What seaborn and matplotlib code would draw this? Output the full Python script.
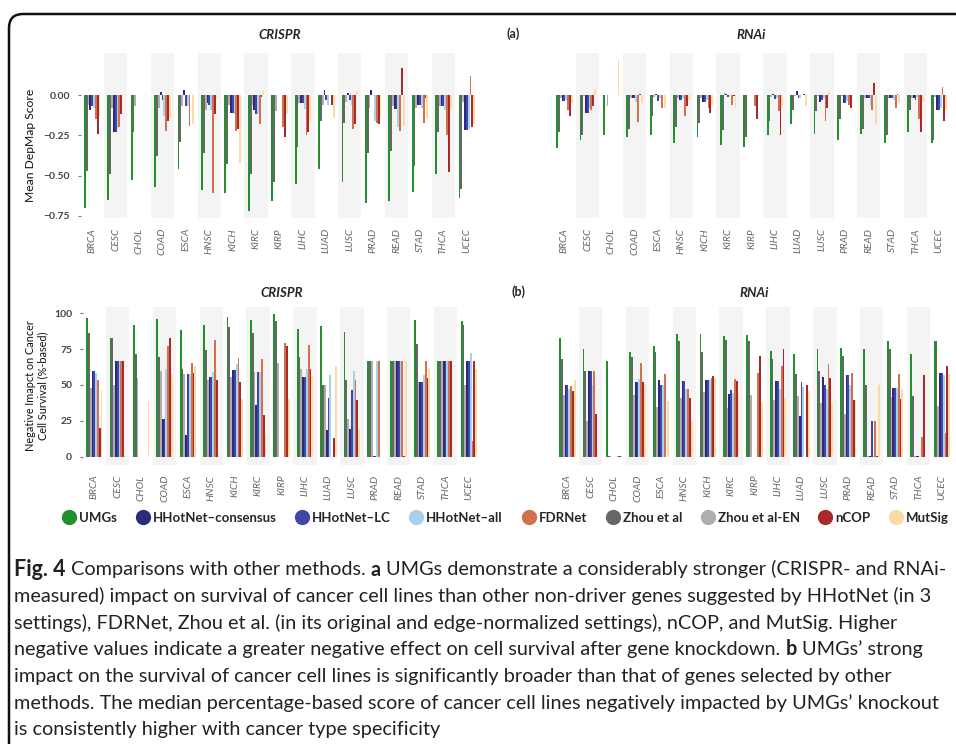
import matplotlib
matplotlib.use("Agg")
import numpy as np
import pandas as pd
import matplotlib.pyplot as plt
import seaborn as sns
from matplotlib.lines import Line2D
from matplotlib.patches import FancyBboxPatch
from matplotlib.transforms import IdentityTransform

# --- data ---
cancers = ["BRCA", "CESC", "CHOL", "COAD", "ESCA", "HNSC", "KICH", "KIRC", "KIRP",
           "LIHC", "LUAD", "LUSC", "PRAD", "READ", "STAD", "THCA", "UCEC"]

# bar order inside each cancer group
methods = ["UMGs", "Zhou et al", "Zhou et al-EN", "HHotNet\u2013consensus", "HHotNet\u2013LC",
           "HHotNet\u2013all", "FDRNet", "nCOP", "MutSig"]
legend_order = ["UMGs", "HHotNet\u2013consensus", "HHotNet\u2013LC", "HHotNet\u2013all", "FDRNet",
                "Zhou et al", "Zhou et al-EN", "nCOP", "MutSig"]
colors = ["#23902f", "#666666", "#b2adad", "#2b2a7b", "#4147a8",
          "#a8d1ee", "#d4704e", "#a8292a", "#fdd9a3"]

# (a) mean DepMap score, rows = cancers, columns = methods
crispr_mean = [
    [-0.70, -0.47, -0.06, -0.09, -0.07, -0.08, -0.15, -0.24, -0.13],
    [-0.65, -0.49, -0.08, -0.23, -0.23, -0.21, -0.20, -0.12, 0.01],
    [-0.53, -0.23, -0.07, 0.0, 0.0, 0.0, 0.0, 0.0, 0.005],
    [-0.57, -0.38, -0.08, 0.02, -0.03, -0.13, -0.22, -0.16, -0.14],
    [-0.46, -0.29, -0.07, 0.03, -0.07, -0.07, -0.19, 0.0, -0.18],
    [-0.59, -0.36, -0.09, -0.05, -0.06, -0.09, -0.61, -0.12, -0.02],
    [-0.61, -0.43, -0.06, -0.11, -0.11, -0.12, -0.22, -0.21, -0.42],
    [-0.72, -0.49, -0.06, -0.09, -0.12, -0.12, -0.18, -0.01, 0.025],
    [-0.66, -0.54, -0.10, 0.0, 0.0, 0.0, -0.20, -0.26, -0.12],
    [-0.55, -0.32, -0.05, -0.05, -0.05, -0.085, -0.25, -0.23, -0.16],
    [-0.46, -0.16, -0.06, 0.03, -0.03, -0.06, 0.0, -0.06, -0.14],
    [-0.54, -0.17, -0.04, 0.015, -0.03, -0.06, -0.21, -0.18, 0.025],
    [-0.67, -0.36, -0.08, 0.03, 0.0, -0.16, -0.17, -0.18, -0.13],
    [-0.66, -0.35, -0.07, -0.085, -0.085, -0.20, -0.22, 0.17, -0.19],
    [-0.60, -0.44, -0.08, -0.06, -0.06, -0.08, -0.17, -0.015, -0.15],
    [-0.49, -0.23, -0.07, -0.07, -0.07, -0.09, -0.25, -0.475, -0.085],
    [-0.64, -0.58, -0.04, -0.215, -0.215, -0.21, 0.12, -0.20, -0.18],
]
rnai_mean = [
    [-0.33, -0.23, -0.02, -0.035, -0.035, -0.03, -0.09, -0.13, -0.05],
    [-0.28, -0.25, -0.005, -0.11, -0.11, -0.08, -0.09, -0.07, 0.04],
    [-0.25, 0.0, -0.07, 0.0, 0.0, 0.0, 0.0, 0.0, 0.22],
    [-0.26, -0.21, -0.02, -0.02, -0.02, -0.045, -0.165, 0.005, -0.05],
    [-0.25, -0.13, -0.01, 0.005, -0.035, -0.02, -0.08, 0.0, -0.08],
    [-0.30, -0.20, -0.02, -0.03, -0.03, -0.02, -0.13, -0.07, -0.03],
    [-0.26, -0.17, -0.02, -0.045, -0.045, -0.03, -0.08, -0.11, -0.06],
    [-0.31, -0.215, 0.012, 0.005, -0.012, 0.0, -0.06, -0.005, -0.08],
    [-0.32, -0.26, 0.0, 0.0, 0.0, 0.0, -0.07, -0.15, -0.005],
    [-0.25, -0.16, -0.01, 0.005, -0.027, -0.02, -0.10, -0.25, -0.07],
    [-0.18, -0.09, -0.005, 0.025, -0.02, -0.02, 0.0, 0.005, -0.07],
    [-0.24, -0.10, -0.005, -0.04, -0.03, -0.02, -0.16, -0.08, 0.02],
    [-0.28, -0.15, -0.005, -0.05, -0.05, -0.035, -0.06, -0.08, -0.01],
    [-0.24, -0.21, -0.02, -0.02, -0.02, -0.065, -0.09, 0.075, -0.18],
    [-0.30, -0.25, -0.02, -0.02, -0.02, -0.03, -0.08, 0.005, -0.05],
    [-0.23, -0.09, -0.02, -0.02, -0.03, -0.01, -0.15, -0.23, -0.04],
    [-0.30, -0.28, -0.01, -0.09, -0.09, -0.08, 0.05, -0.16, -0.09],
]

# (b) % of cell lines negatively impacted
crispr_pct = [
    [96.5, 86, 48, 60, 60, 58, 53.5, 20, 46.5],
    [83, 83, 50, 67, 67, 67, 67, 67, 0.5],
    [92, 71.5, 55, 0, 0, 0, 0, 0, 38],
    [96, 69.5, 60, 26.4, 26.4, 61, 77, 82.6, 57.6],
    [88, 61, 57.6, 15.3, 57.6, 57.6, 65, 58, 63],
    [92, 74, 53.5, 55.5, 55.5, 59, 81, 53.5, 1.4],
    [97, 90, 55.5, 60.4, 60.4, 64.6, 68.8, 52, 40],
    [95, 86, 59, 36, 59, 59, 68, 29, 15.3],
    [99, 94.4, 65, 0, 0, 0, 79, 77, 40],
    [89, 69.4, 61, 55.5, 55.5, 61, 77.8, 61, 55.5],
    [91, 50, 50, 18.75, 41, 57, 0, 13, 63],
    [87, 53.5, 26.4, 19.4, 46.5, 59.7, 53.5, 39.6, 19.4],
    [66.7, 66.7, 66.7, 0.5, 0.5, 66.7, 66.7, 0.3, 0.3],
    [66.7, 66.7, 66.7, 66.7, 66.7, 66.7, 66.7, 0.5, 66.7],
    [95, 78.5, 52, 52, 52, 57, 66.7, 55, 62],
    [66.7, 66.7, 66.7, 66.7, 66.7, 66.7, 66.7, 66.7, 0],
    [94.4, 91.7, 50, 66.7, 66.7, 72, 11, 66.7, 61],
]
rnai_pct = [
    [82.6, 68, 43, 50, 50, 47, 49.3, 45.8, 53.5],
    [75, 59.7, 25, 59.7, 59.7, 50, 59.7, 30, 0],
    [66.7, 0.5, 0.5, 0, 0, 0, 0.5, 0.5, 0.5],
    [73, 69.4, 43, 52, 52, 54, 65, 52, 50],
    [77, 73, 34.7, 53.5, 50, 50, 57.6, 0, 39],
    [85.4, 80.6, 41, 52.8, 52.8, 47.2, 47.2, 41, 25],
    [85.4, 73, 45, 53.5, 53.5, 53.5, 54.9, 56.3, 54.9],
    [84, 81, 34, 43.75, 46.5, 44.4, 54, 52.8, 43.75],
    [84.7, 80.6, 43, 0, 0, 0, 58.3, 70, 37.5],
    [73.6, 68, 39.6, 52.8, 52.8, 47.2, 63, 75, 41],
    [71.5, 57.6, 42.4, 28.5, 52, 48.6, 0, 50, 45.8],
    [75, 59.7, 37.5, 55.5, 50, 47.2, 64.6, 54.9, 36.8],
    [75.7, 70, 30, 57, 57, 50, 58.3, 39.6, 39.6],
    [75, 50, 0.5, 0.5, 25, 0.5, 25, 0.5, 50],
    [80.6, 75, 41.7, 48, 48, 48, 57.6, 40.3, 47.2],
    [71.5, 42.4, 0.5, 0.5, 0.5, 0, 13.9, 57, 0],
    [80.6, 80.6, 35.4, 58.3, 58.3, 57, 16.7, 63, 57.6],
]

caption_lines = [
    [("Fig. 4", "bold"), ("Comparisons with other methods.", "normal"), ("a", "bold"),
     ("UMGs demonstrate a considerably stronger (CRISPR- and RNAi-", "normal")],
    [("measured) impact on survival of cancer cell lines than other non-driver genes suggested by HHotNet (in 3", "normal")],
    [("settings), FDRNet, Zhou et al. (in its original and edge-normalized settings), nCOP, and MutSig. Higher", "normal")],
    [("negative values indicate a greater negative effect on cell survival after gene knockdown.", "normal"),
     ("b", "bold"), ("UMGs\u2019 strong", "normal")],
    [("impact on the survival of cancer cell lines is significantly broader than that of genes selected by other", "normal")],
    [("methods. The median percentage-based score of cancer cell lines negatively impacted by UMGs\u2019 knockout", "normal")],
    [("is consistently higher with cancer type specificity", "normal")],
]

sns.set_theme(style="white")
plt.rcParams["font.family"] = ["Lato", "DejaVu Sans"]

W, H = 956, 744
fig = plt.figure(figsize=(W / 100, H / 100), dpi=100)


def to_long(rows):
    df = pd.DataFrame(rows, index=cancers, columns=methods)
    return df.reset_index(names="cancer").melt(id_vars="cancer", var_name="method", value_name="value")


def px_axes(left, top, width, bottom):
    return fig.add_axes([left / W, 1 - bottom / H, width / W, (bottom - top) / H])


def draw_panel(ax, rows, ylim, yticks, ylabels, show_y, title, title_pad):
    sns.barplot(data=to_long(rows), x="cancer", y="value", hue="method", order=cancers,
                hue_order=methods, palette=colors, width=0.7, saturation=1, errorbar=None,
                legend=False, linewidth=0, ax=ax, zorder=2)
    for i in range(1, len(cancers), 2):
        ax.axvspan(i - 0.5, i + 0.5, color="#f4f4f4", lw=0, zorder=0)
    ax.set_xlim(-0.5, len(cancers) - 0.5)
    ax.set_ylim(*ylim)
    ax.set_xlabel("")
    ax.set_ylabel("")
    ax.set_yticks(yticks)
    ax.set_yticklabels(ylabels, fontsize=7.5, fontweight="bold", color="#444444")
    ax.tick_params(axis="y", left=show_y, labelleft=show_y, length=2.5, width=0.8,
                   color="#777777", pad=5)
    ax.tick_params(axis="x", length=0, pad=7)
    for lbl in ax.get_xticklabels():
        lbl.set_rotation(90)
        lbl.set_style("italic")
        lbl.set_fontsize(7.3)
        lbl.set_color("#666666")
    ax.set_title(title, fontsize=9.5, fontweight="bold", style="italic", pad=title_pad)
    sns.despine(ax=ax, left=True, bottom=True)


# (a) panels
ax1 = px_axes(80.5, 53.3, 398, 218.3)
ax2 = px_axes(552.6, 53.3, 398, 218.3)
mean_ticks = [0, -0.25, -0.5, -0.75]
mean_labels = ["0.00", "\u22120.25", "\u22120.50", "\u22120.75"]
draw_panel(ax1, crispr_mean, (-0.765, 0.26), mean_ticks, mean_labels, True, "CRISPR", 10)
draw_panel(ax2, rnai_mean, (-0.765, 0.26), mean_ticks, mean_labels, False, "RNAi", 10)
ax1.set_ylabel("Mean DepMap Score", fontsize=8.7, color="#111111")
ax1.yaxis.set_label_coords(-0.112, 0.444)

# (b) panels
ax3 = px_axes(82.6, 307, 398, 465)
ax4 = px_axes(555.6, 307, 398, 465)
pct_ticks = [0, 25, 50, 75, 100]
draw_panel(ax3, crispr_pct, (-5.6, 104.2), pct_ticks, [str(t) for t in pct_ticks], True, "CRISPR", 7)
draw_panel(ax4, rnai_pct, (-5.6, 104.2), pct_ticks, [str(t) for t in pct_ticks], False, "RNAi", 7)
ax3.set_ylabel("Negative Imapct on Cancer\nCell Survival (%-based)", fontsize=7.8,
               color="#111111", linespacing=1.15)
ax3.yaxis.set_label_coords(-0.087, 0.5)

fig.text(513 / W, 1 - 34 / H, "(a)", fontsize=9, fontweight="bold", ha="center", va="center")
fig.text(518 / W, 1 - 292 / H, "(b)", fontsize=9, fontweight="bold", ha="center", va="center")

# legend
pal = dict(zip(methods, colors))
handles = [Line2D([], [], marker="o", linestyle="", markersize=11, markerfacecolor=pal[m],
                  markeredgewidth=0) for m in legend_order]
fig.legend(handles, legend_order, loc="center", bbox_to_anchor=(0.529, 1 - 518 / H), ncol=9,
           frameon=False, handletextpad=0.25, columnspacing=1.45, handlelength=1.0,
           prop={"weight": "bold", "size": 9.5})

# frame
frame = FancyBboxPatch((9, -40), 1100, 730 - (-40), boxstyle="round,pad=0,rounding_size=14",
                       transform=IdentityTransform(), fill=False, edgecolor="#111111", lw=1.8)
fig.add_artist(frame)

# caption with bold pieces
renderer = fig.canvas.get_renderer()


def text_width(s, size, weight):
    t = fig.text(0, 0, s, fontsize=size, fontweight=weight, transform=IdentityTransform())
    w = t.get_window_extent(renderer).width
    t.remove()
    return w


base = 14
cap_size = base * 931 / text_width(caption_lines[5][0][0], base, "normal")
space = text_width("a a", cap_size, "normal") - text_width("aa", cap_size, "normal")
y0, dy = 575.5, 26.6
for k, segs in enumerate(caption_lines):
    x = 14
    y = H - (y0 + k * dy)
    for s, weight in segs:
        size = cap_size * 1.08 if s == "Fig. 4" else cap_size
        t = fig.text(x, y, s, fontsize=size, fontweight=weight, va="baseline", ha="left",
                     color="#222222", transform=IdentityTransform())
        x += t.get_window_extent(renderer).width + space

fig.savefig("out.png", dpi=100)
